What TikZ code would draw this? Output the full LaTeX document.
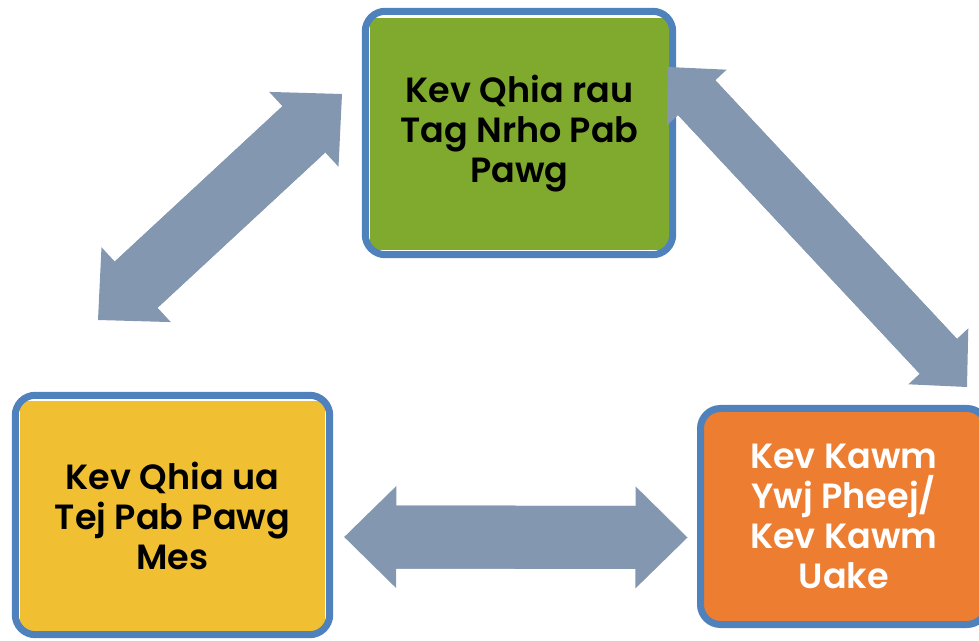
\documentclass[tikz,border=0pt]{standalone}
\usepackage{fontspec}
\setmainfont{Poppins}[BoldFont={Poppins SemiBold}]
\usetikzlibrary{arrows.meta}

\definecolor{rimblue}{RGB}{79,129,189}
\definecolor{boxgreen}{RGB}{128,170,46}
\definecolor{boxyellow}{RGB}{240,192,50}
\definecolor{boxorange}{RGB}{237,125,49}
\definecolor{arrowgray}{RGB}{132,151,176}

\begin{document}
\begin{tikzpicture}[x=1pt,y=1pt,
    rim/.style={draw=rimblue,line width=7pt,rounded corners=20pt},
    txt/.style={align=center,font=\fontsize{35}{40}\selectfont\bfseries,inner sep=0pt},
    % thick shaft, drawn again without tips so head and shaft overlap
    fat/.style={draw=arrowgray,line width=63pt,
      {Triangle[length=52pt,width=102pt,line width=0pt]}-{Triangle[length=52pt,width=102pt,line width=0pt]},
      postaction={draw=arrowgray,line width=63pt,-,shorten <=40pt,shorten >=40pt}},
    slim/.style={draw=arrowgray,line width=51pt,
      {Triangle[length=42pt,width=82pt,line width=0pt]}-{Triangle[length=42pt,width=82pt,line width=0pt]},
      postaction={draw=arrowgray,line width=51pt,-,shorten <=32pt,shorten >=32pt}}]
  \useasboundingbox (0,0) rectangle (979,640);
  \clip (0,0) rectangle (979,640);

  % the three stages
  \node[txt,fill=boxgreen,minimum width=299pt,minimum height=232pt] (grn) at (519.5,506)
    {Kev Qhia rau\\Tag Nrho Pab\\Pawg};
  \draw[rim] ([shift={(-4.5,-4.5)}]grn.south west) rectangle ([shift={(3.5,6.5)}]grn.north east);

  \node[txt,fill=boxyellow,minimum width=305pt,minimum height=230pt] (yel) at (172.5,124)
    {Kev Qhia ua\\Tej Pab Pawg\\Mes};
  \draw[rim] ([shift={(-4.5,-3.5)}]yel.south west) rectangle ([shift={(4.5,5.5)}]yel.north east);

  \node[txt,rim,fill=boxorange,text=white,minimum width=286.5pt,minimum height=216pt] (ora) at (843.75,123.5)
    {Kev Kawm\\Ywj Pheej/\\Kev Kawm\\Uake};

  % two-way arrows between them
  \coordinate (lo) at (98,320);
  \coordinate (hi) at (342,546);
  \coordinate (tr) at (668,573);
  \coordinate (br) at (967,253);

  \draw[fat] ([shift={(19,-21)}]yel.east) -- ([shift={(-9.5,-21)}]ora.west);
  \draw[fat] (lo) -- (hi);
  \draw[slim] (tr) -- (br);
\end{tikzpicture}
\end{document}
